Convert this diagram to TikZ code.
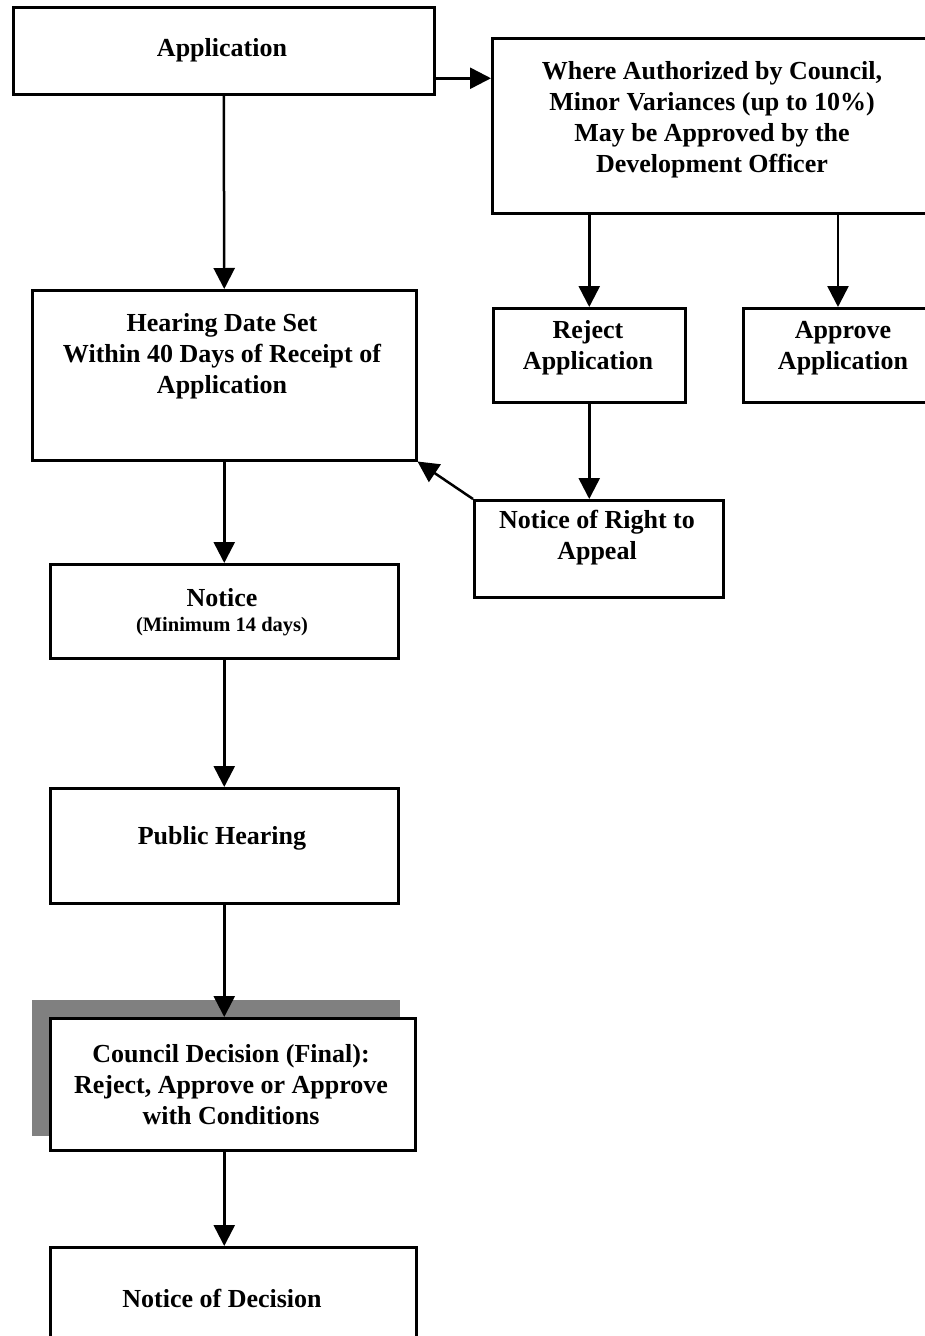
\documentclass[tikz,border=0pt]{standalone}
\usepackage{fontspec}
\setmainfont{Liberation Serif}
\usetikzlibrary{arrows.meta,calc}
\begin{document}
\begin{tikzpicture}[x=1pt,y=-1pt,
  box/.style={draw=black,line width=2.5pt,fill=white,inner sep=0pt,anchor=north west},
  txt/.style={font=\fontsize{26}{31}\selectfont\bfseries,align=center,inner sep=0pt},
  small/.style={font=\fontsize{20.5}{24}\selectfont\bfseries,align=center,inner sep=0pt},
  arr/.style={line width=2.5pt,-{Triangle[length=21pt,width=21pt]}},
  shadowbox/.style={fill=black!50,draw=none,anchor=north west,inner sep=0pt}]
\useasboundingbox (0,0) rectangle (924,1336);
\fill[white] (0,0) rectangle (924,1336);
% boxes
\node[box,minimum width=421pt,minimum height=87pt] (app) at (12,6) {};
\node[box,minimum width=450pt,minimum height=175pt] (where) at (491,37) {};
\node[box,minimum width=384pt,minimum height=170pt] (hearing) at (31,289) {};
\node[box,minimum width=192pt,minimum height=94pt] (reject) at (492,307) {};
\node[box,minimum width=200pt,minimum height=94pt] (approve) at (742,307) {};
\node[box,minimum width=249pt,minimum height=97pt] (rights) at (473,499) {};
\node[box,minimum width=348pt,minimum height=94pt] (notice) at (49,563) {};
\node[box,minimum width=348pt,minimum height=115pt] (public) at (49,787) {};
\node[shadowbox,minimum width=368pt,minimum height=136pt] (shadow) at (32,1000) {};
\node[box,minimum width=365pt,minimum height=132pt] (council) at (49,1017) {};
\node[box,minimum width=366pt,minimum height=140pt] (decision) at (49,1246) {};
\coordinate (apprx) at (838,0);
% texts
\node[txt] (appT) at (222,50) {Application};
\node[txt] (whereT) at (712,120) {Where Authorized by Council,\\Minor Variances (up to 10\%)\\May be Approved by the\\Development Officer};
\node[txt] (hearingT) at (222,356) {Hearing Date Set\\Within 40 Days of Receipt of\\Application};
\node[txt] (rejectT) at (588,348) {Reject\\Application};
\node[txt] (approveT) at (843,348) {Approve\\Application};
\node[txt] (rightsT) at (597,538) {Notice of Right to\\Appeal};
\node[txt] (noticeT) at (222,598) {Notice};
\node[small] (noticeS) at (222,627) {(Minimum 14 days)};
\node[txt] (publicT) at (222,838) {Public Hearing};
\node[txt] (councilT) at (231,1085) {Council Decision (Final):\\Reject, Approve or Approve\\with Conditions};
\node[txt] (decisionT) at (222,1298) {Notice of Decision};
% connectors
\draw[arr] ([yshift=-27.5pt]app.east) -- ([yshift=-27.5pt]app.east -| where.west);
\draw[arr] (app.south) -- (hearing.north);
\draw[arr] (where.south -| reject.north) -- (reject.north);
\draw[arr] (where.south -| apprx) -- (approve.north -| apprx);
\draw[arr] (reject.south) -- (reject.south |- rights.north);
\draw[arr] (rights.north west) -- (hearing.south east);
\draw[arr] (hearing.south) -- (hearing.south |- notice.north);
\draw[arr] (notice.south -| hearing.south) -- (hearing.south |- public.north);
\draw[arr] (public.south -| hearing.south) -- (hearing.south |- council.north);
\draw[arr] (council.south -| hearing.south) -- (hearing.south |- decision.north);
\end{tikzpicture}
\end{document}
